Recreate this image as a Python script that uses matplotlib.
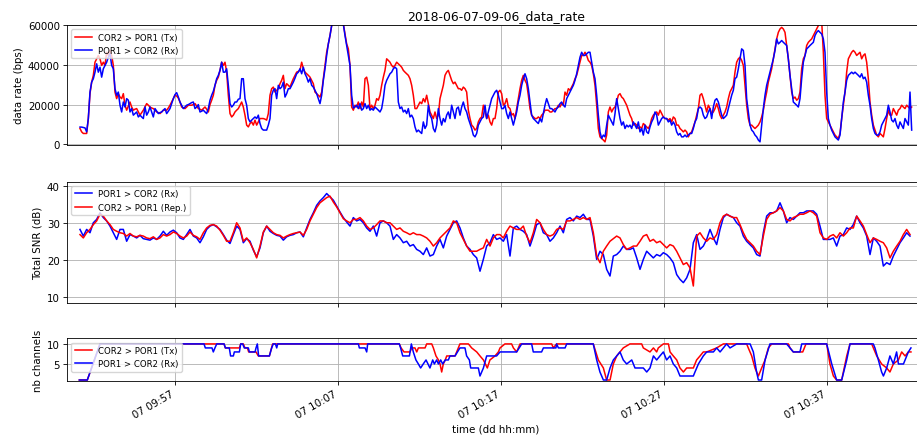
import numpy as np
import pandas as pd
import matplotlib
matplotlib.use("Agg")
import matplotlib.pyplot as plt
import matplotlib.dates as mdates

TITLE = "2018-06-07-09-06_data_rate"
BASE_TIME = "2018-06-07 09:50:00"

# ---------------- data rate panel (regular sampling) ----------------
RATE_START_MIN = 1.151          # minutes after 09:50:00
RATE_STEP_SEC = 6.135

RATE_TX_KBPS = [
    8.0, 6.3, 5.5, 5.5, 5.5, 13.0, 25.5, 31.3, 34.7, 41.3,
    43.0, 44.7, 43.0, 39.7, 41.3, 39.7, 46.3, 44.7, 47.2, 44.7,
    39.7, 26.3, 23.0, 25.5, 23.8, 23.0, 25.5, 19.7, 17.2, 19.3,
    21.3, 18.8, 17.2, 17.7, 18.0, 16.3, 14.7, 16.0, 17.2, 18.8,
    20.5, 19.7, 18.8, 18.3, 18.0, 17.2, 16.3, 16.0, 15.5, 16.3,
    17.2, 17.2, 17.2, 18.3, 19.7, 21.3, 23.0, 24.7, 24.3, 23.3,
    21.3, 18.8, 18.3, 18.0, 18.8, 19.7, 19.7, 19.7, 20.0, 20.5,
    19.3, 18.0, 17.7, 17.2, 18.0, 18.8, 17.7, 16.3, 20.0, 22.2,
    24.7, 29.7, 32.2, 33.8, 37.2, 41.3, 39.7, 41.3, 36.3, 24.7,
    15.5, 13.8, 14.7, 16.3, 17.2, 18.0, 19.7, 21.3, 18.8, 14.7,
    9.7, 8.8, 10.5, 11.3, 9.7, 12.2, 9.7, 11.3, 13.0, 13.0,
    13.0, 12.7, 12.2, 15.5, 24.7, 28.0, 28.8, 26.3, 27.2, 28.0,
    30.5, 32.2, 34.7, 28.0, 30.5, 29.7, 28.8, 31.0, 33.0, 34.7,
    36.3, 36.7, 37.2, 41.3, 38.0, 36.3, 35.5, 34.7, 33.8, 32.2,
    30.5, 26.3, 25.5, 24.7, 23.8, 26.3, 33.0, 39.7, 46.3, 50.5,
    54.7, 59.7, 62.2, 64.7, 66.3, 66.3, 64.7, 62.2, 60.5, 55.5,
    50.5, 48.0,
    39.7, 18.8, 17.2, 19.7, 18.8, 21.3, 18.0, 21.3, 18.8, 33.0,
    33.8, 29.7, 18.0, 19.7, 18.0, 19.7, 23.0, 22.2, 24.7, 29.7,
    33.8, 37.2, 43.0, 42.2, 41.3, 39.7, 38.8, 39.7, 41.3, 40.5,
    39.7, 38.8, 37.2, 36.3, 35.5, 34.7, 33.0, 29.7, 24.7, 18.0,
    18.0, 19.7, 21.3, 20.5, 23.0, 21.3, 24.7, 20.5, 16.3, 14.7,
    13.0, 16.3, 13.0, 14.7, 23.0, 26.3, 29.7, 34.7, 36.3, 37.2,
    34.7, 32.2, 30.5, 31.3, 29.7, 28.0, 28.0, 27.2, 28.8, 28.0,
    26.3, 17.2, 13.0, 9.7, 8.8, 7.2, 8.0, 11.3, 13.0, 13.8,
    19.7, 16.3, 13.0, 14.7, 11.3, 9.7, 13.0, 13.0, 18.0, 26.3,
    27.2, 25.5, 19.7, 20.5, 23.0, 18.8, 18.0, 14.7, 15.5, 13.0,
    18.0, 23.0, 28.0, 32.2, 34.7, 32.2, 30.5, 24.7, 18.0, 14.7,
    13.8, 13.0, 13.0, 13.8, 13.0, 14.7, 15.5, 17.2, 17.2, 17.2,
    16.3, 16.3, 17.2, 18.0, 18.0, 19.7, 18.8, 20.5, 19.7, 26.3,
    24.7, 28.0, 27.2, 28.8, 30.5, 33.0, 34.7, 38.0, 41.3, 44.7,
    44.7, 46.3, 44.7, 42.2, 41.3, 39.7, 35.5, 29.7, 19.7, 8.0,
    3.8, 3.0, 2.2, 1.3, 4.7, 16.3, 18.8, 16.3, 18.0, 18.8,
    21.3, 24.7, 25.5, 23.8, 23.0, 21.3, 19.7, 17.2,
    14.7, 13.0, 9.7, 10.5, 9.7, 8.0, 8.8, 8.0, 10.5, 9.7,
    8.8, 8.0, 9.7, 13.0, 14.7, 15.5, 16.3, 14.7, 17.2, 15.5,
    13.8, 13.0, 13.0, 12.2, 13.0, 11.3, 13.8, 13.0, 9.7, 9.7,
    8.0, 7.2, 6.3, 7.2, 6.3, 3.8, 5.5, 6.3, 8.8, 11.3,
    14.7, 18.0, 24.7, 25.5, 23.0, 19.7, 16.3, 19.7, 18.0, 15.5,
    16.3, 18.0, 20.5, 18.0, 14.7, 13.0, 14.7, 16.3, 18.8, 23.0,
    26.3, 28.0, 29.7, 36.3, 41.3, 43.0, 43.8, 42.2, 39.7, 29.7,
    19.7, 13.0, 9.7, 9.7, 8.8, 8.0, 8.8, 9.7, 11.3, 13.8,
    17.2, 22.2, 26.3, 31.3, 34.7, 38.0, 43.0, 48.0, 53.0, 56.3,
    58.0, 58.8, 58.0, 56.3, 49.7, 43.0, 34.7, 26.3, 23.0, 23.8,
    22.2, 23.0, 26.3, 38.0, 43.0, 44.7, 49.7, 51.3, 52.2, 53.0,
    54.7, 56.3, 58.0, 59.7, 61.0, 62.0, 46.3, 24.7, 13.0, 11.3,
    9.7, 8.0, 6.3, 4.7, 3.8, 3.0, 5.5, 13.0, 19.7, 26.3,
    36.3, 43.0, 44.7, 46.3, 47.2, 46.3, 44.7, 45.5, 46.3, 43.0,
    44.7, 45.5, 41.3, 33.0, 21.3, 14.7, 9.7, 7.2, 4.7, 3.8,
    5.5, 4.7, 3.8, 8.0, 13.0, 17.2, 14.7, 14.7, 18.0, 16.3,
    14.7, 17.2, 18.0, 19.7, 18.8, 18.0, 19.7, 18.8, 18.0, 18.8,
]

RATE_RX_KBPS = [
    8.7, 8.7, 8.5, 8.3, 6.3, 13.0, 26.3, 31.3, 33.0, 36.3,
    40.5, 36.3, 38.8, 33.8, 38.0, 39.7, 41.3, 43.8, 45.5, 39.7,
    38.0, 28.0, 24.7, 26.3, 19.7, 16.3, 21.3, 18.8, 23.0, 22.2,
    16.3, 18.0, 14.7, 15.5, 16.3, 13.8, 14.7, 13.8, 13.0, 18.8,
    14.7, 16.3, 18.8, 16.3, 13.8, 18.0, 16.7, 15.5, 16.0, 16.3,
    17.2, 18.0, 15.5, 16.7, 18.0, 20.5, 23.0, 25.0, 26.0, 23.8,
    21.3, 19.7, 18.0, 18.8, 19.7, 20.0, 20.5, 21.0, 21.3, 18.0,
    18.8, 20.0, 16.3, 16.7, 17.2, 16.3, 15.5, 18.0, 22.2, 24.7,
    26.7, 29.7, 33.0, 34.7, 37.2, 41.3, 36.3, 36.3, 38.0, 29.7,
    20.5, 18.8, 19.7, 21.3, 21.3, 22.7, 23.0, 33.0, 33.0, 23.0,
    19.7, 13.0, 11.3, 12.2, 13.0, 13.8, 13.0, 14.7, 10.5, 8.0,
    7.2, 7.2, 7.2, 9.7, 13.0, 24.7, 27.2, 28.0, 23.0, 29.7,
    28.0, 28.8, 31.3, 23.8, 25.5, 28.0, 28.0, 29.7, 31.3, 33.3,
    35.5, 36.3, 38.0, 35.5, 38.8, 35.5, 33.8, 31.3, 33.0, 29.7,
    28.8, 27.2, 25.5, 23.0, 20.5, 24.7, 32.2, 38.0, 44.7, 50.5,
    54.7, 59.7, 62.2, 64.7, 66.3, 66.3, 64.7, 62.2, 60.5, 54.7,
    49.7, 44.7,
    39.7, 24.7, 18.3, 18.8, 19.7, 18.0, 20.5, 17.2, 18.0, 20.5,
    18.0, 19.7, 17.2, 18.0, 17.2, 18.8, 18.0, 17.2, 16.3, 18.0,
    23.0, 29.7, 32.2, 33.8, 35.5, 36.3, 38.0, 38.8, 38.0, 21.3,
    18.0, 18.8, 16.3, 17.2, 15.5, 18.0, 13.8, 14.7, 13.0, 8.8,
    6.3, 7.2, 6.3, 5.5, 11.3, 8.0, 9.7, 19.7, 14.7, 13.0,
    8.0, 6.3, 9.7, 18.0, 13.0, 9.7, 13.0, 11.3, 14.7, 16.3,
    13.0, 19.7, 16.3, 13.0, 18.0, 18.8, 14.7, 18.8, 21.3, 18.0,
    16.3, 13.0, 10.5, 8.0, 4.7, 3.8, 5.5, 9.7, 11.3, 13.0,
    13.8, 19.7, 13.0, 16.3, 19.7, 23.0, 24.7, 26.3, 27.2, 24.7,
    21.3, 18.0, 18.0, 19.7, 15.5, 13.0, 16.3, 13.0, 9.7, 13.0,
    16.3, 21.3, 24.7, 29.7, 33.0, 35.5, 33.0, 28.0, 21.3, 14.7,
    13.0, 12.2, 11.3, 10.5, 13.0, 11.3, 15.5, 19.7, 23.0, 20.5,
    18.0, 18.0, 17.2, 16.3, 18.0, 18.8, 20.5, 21.3, 19.7, 18.8,
    23.0, 24.7, 26.3, 28.0, 29.7, 32.2, 35.5, 39.7, 43.8, 46.3,
    44.7, 44.7, 45.5, 46.3, 46.3, 41.3, 36.3, 33.0, 24.7, 14.7,
    6.3, 3.0, 4.7, 3.8, 9.7, 14.7, 13.0, 11.3, 9.7, 15.5,
    23.0, 18.0, 13.0, 9.7, 11.3, 8.0, 9.7, 8.8,
    9.7, 8.0, 11.3, 9.7, 8.0, 11.3, 6.3, 8.0, 4.7, 9.7,
    6.3, 5.5, 8.8, 11.3, 13.0, 16.3, 14.7, 9.7, 11.3, 13.0,
    13.8, 13.0, 13.0, 11.3, 12.2, 9.7, 11.3, 9.7, 6.3, 4.7,
    5.5, 3.8, 3.8, 4.7, 3.8, 4.7, 5.5, 5.5, 8.0, 11.3,
    13.0, 18.0, 18.8, 18.0, 14.7, 13.0, 13.8, 16.3, 18.0, 13.0,
    18.8, 22.2, 23.0, 21.3, 18.0, 14.7, 13.0, 13.8, 14.7, 18.0,
    21.3, 24.7, 27.2, 33.0, 33.8, 38.0, 43.0, 48.0, 47.2, 39.7,
    23.0, 16.3, 9.7, 7.2, 6.3, 4.7, 3.8, 2.2, 1.3, 9.7,
    18.0, 24.7, 29.7, 33.0, 36.3, 39.7, 43.0, 47.2, 53.0, 50.5,
    51.3, 52.2, 51.3, 50.5, 49.7, 43.0, 34.7, 28.0, 21.3, 20.5,
    19.7, 18.8, 23.0, 33.0, 41.3, 44.7, 48.0, 48.8, 49.7, 50.5,
    51.3, 54.7, 56.3, 57.2, 56.3, 55.5, 53.0, 46.3, 26.3, 13.0,
    9.7, 7.2, 5.5, 3.8, 3.0, 2.2, 4.7, 13.0, 21.3, 26.3,
    32.2, 34.7, 35.5, 36.3, 35.5, 36.3, 35.5, 34.7, 33.8, 35.5,
    33.0, 33.8, 31.3, 24.7, 19.7, 13.0, 8.0, 5.5, 4.7, 4.7,
    6.3, 9.7, 11.3, 13.0, 14.7, 19.7, 16.3, 12.2, 11.3, 13.0,
    9.7, 8.0, 11.3, 9.7, 8.0, 13.0, 11.3, 9.7, 26.3, 7.2,
]

# ---------------- SNR panel (regular sampling) ----------------
SNR_START_MIN = 1.151
SNR_STEP_SEC = 12.27

SNR_RX_DB = [
    28.2, 26.4, 28.2, 27.3, 30.0, 30.9, 32.7, 31.4, 30.5, 29.1,
    27.3, 25.5, 28.2, 28.2, 25.0, 26.8, 26.4, 25.9, 26.6, 25.7,
    25.5, 25.3, 25.9, 25.5, 26.4, 27.7, 26.6, 27.5, 28.0, 27.3,
    25.9, 25.5, 26.8, 28.2, 26.4, 25.9, 24.6, 26.2, 28.2, 29.1,
    29.5, 28.9, 28.2, 26.8, 25.3, 24.4, 26.8, 29.1, 28.2, 24.6,
    25.7, 25.0, 22.6, 20.8, 23.2, 27.3, 29.1, 27.7, 27.1, 26.6,
    26.4, 25.3, 26.2, 26.6, 26.8, 27.3, 27.5, 26.2, 28.6, 30.9,
    32.7, 34.7, 35.9, 36.8, 37.9, 37.0, 36.1, 34.5, 32.9, 31.4,
    30.2,
    29.1, 31.4, 30.5, 30.9, 30.0, 28.6, 27.7, 29.1, 26.4, 30.0,
    30.5, 30.0, 29.1, 25.5, 26.8, 25.9, 24.6, 25.0, 23.7, 24.1,
    22.8, 22.3, 21.4, 23.2, 21.0, 21.4, 23.7, 25.5, 23.2, 26.4,
    28.2, 30.0, 30.5, 28.6, 25.9, 23.7, 22.8, 21.4, 20.5, 16.9,
    20.1, 23.7, 24.6, 26.8, 25.5, 25.9, 25.0, 26.8, 21.0, 28.6,
    29.1, 28.2, 27.7, 26.8, 23.7, 26.4, 29.5, 30.0, 27.3, 26.8,
    25.0, 25.9, 27.3, 29.1, 27.3, 30.9, 31.4, 30.5, 31.8, 31.4,
    32.3, 30.9, 30.9, 26.4, 20.1, 22.3, 21.4, 17.4, 15.6, 21.0,
    21.4, 22.3, 23.7, 22.8,
    22.8, 23.2, 20.5, 17.4, 20.1, 22.3, 21.4, 20.5, 21.4, 21.0,
    21.9, 21.4, 20.5, 19.2, 16.0, 14.7, 13.8, 15.1, 17.4, 24.6,
    26.8, 22.8, 23.7, 25.5, 28.2, 25.9, 24.1, 28.2, 31.4, 32.3,
    31.8, 31.4, 30.0, 29.1, 26.4, 25.0, 24.1, 23.2, 21.4, 21.0,
    27.3, 31.8, 32.7, 32.7, 33.2, 35.4, 33.2, 30.0, 31.4, 30.9,
    31.8, 32.7, 32.7, 33.2, 33.2, 33.2, 32.3, 29.1, 25.5, 25.5,
    25.5, 25.9, 23.7, 26.4, 26.8, 28.6, 28.2, 29.5, 31.8, 30.0,
    28.6, 26.4, 21.4, 25.9, 25.0, 23.7, 18.3, 19.2, 18.7, 21.0,
    22.8, 24.6, 25.9, 27.3, 26.4,
]

SNR_REP_DB = [
    26.8, 25.9, 27.3, 28.2, 29.5, 30.5, 32.3, 31.8, 30.5, 29.5,
    28.2, 27.7, 27.3, 27.1, 26.4, 27.1, 26.4, 26.2, 26.6, 26.4,
    25.9, 25.7, 26.2, 25.5, 25.9, 26.8, 26.4, 26.8, 27.5, 27.1,
    26.4, 25.9, 26.4, 27.5, 26.6, 26.2, 25.5, 27.3, 28.6, 29.3,
    29.5, 29.1, 28.0, 26.6, 25.0, 25.0, 27.3, 30.0, 28.6, 25.0,
    25.9, 24.6, 22.8, 20.5, 23.7, 27.5, 29.1, 28.2, 27.3, 26.8,
    26.6, 25.9, 26.4, 26.8, 27.1, 27.3, 27.5, 26.6, 28.2, 30.5,
    32.3, 34.1, 35.4, 36.1, 36.8, 37.2, 35.6, 34.3, 32.7, 31.1,
    30.5,
    30.0, 30.9, 30.9, 31.4, 30.5, 29.1, 28.2, 28.6, 29.5, 30.5,
    30.5, 30.0, 30.0, 29.1, 28.2, 28.6, 27.7, 27.3, 26.8, 27.3,
    26.8, 26.8, 26.4, 25.9, 25.0, 23.7, 24.6, 25.9, 26.8, 27.7,
    28.6, 30.5, 30.0, 27.3, 25.5, 23.7, 22.3, 22.3, 22.3, 22.8,
    23.2, 25.5, 23.7, 25.9, 26.8, 26.8, 25.9, 27.7, 29.1, 28.6,
    28.2, 28.2, 29.1, 26.4, 24.6, 27.3, 30.9, 30.0, 28.2, 26.8,
    26.4, 26.8, 28.2, 28.6, 28.2, 30.5, 30.5, 30.9, 31.4, 30.9,
    31.4, 30.9, 31.4, 27.3, 21.0, 19.2, 22.3, 23.7, 25.0, 25.7,
    26.4, 25.9, 24.1, 22.8,
    23.2, 23.7, 23.7, 25.0, 26.4, 26.8, 25.0, 25.5, 24.6, 25.0,
    24.1, 23.2, 24.1, 23.7, 22.3, 20.5, 18.7, 19.2, 17.8, 12.9,
    26.4, 27.3, 25.9, 25.0, 25.9, 25.5, 26.8, 30.0, 31.8, 32.3,
    31.8, 31.4, 31.4, 29.5, 27.3, 25.5, 24.6, 23.7, 22.3, 21.4,
    26.4, 30.9, 32.3, 32.7, 33.2, 34.1, 33.2, 30.9, 30.5, 31.4,
    31.8, 32.3, 32.3, 32.7, 33.2, 32.7, 31.8, 27.3, 25.9, 25.5,
    26.4, 26.8, 25.9, 27.3, 26.4, 27.3, 28.6, 28.6, 31.8, 30.5,
    29.1, 26.8, 24.6, 25.9, 25.5, 25.0, 24.6, 23.2, 20.5, 22.3,
    23.7, 25.0, 26.8, 28.2, 26.8,
]

# ---------------- channel panel (change points) ----------------
CH_TX_MIN = [
    1.11, 1.60, 2.38, 9.99, 10.07, 10.93, 11.01, 11.17, 11.27, 11.42,
    11.50, 11.95, 12.09, 12.77, 12.97, 20.74, 20.85, 21.03, 21.40, 21.50,
    21.70, 21.81, 21.91, 22.32, 22.42, 22.73, 22.83, 22.99, 23.14, 23.24,
    23.34, 23.44, 23.56, 23.65, 24.16,
    24.26, 24.36, 24.46, 24.98, 25.18, 25.49, 25.69, 25.90, 26.14, 26.30,
    26.61, 26.82, 26.92, 27.22, 27.63, 27.74, 27.94, 28.15, 30.09, 30.19,
    30.39, 32.64, 32.95, 33.26, 33.46, 33.67, 33.87, 34.08, 34.28, 34.48,
    34.89, 35.61, 35.71, 36.12, 36.33, 36.53, 36.63, 36.94, 37.25, 37.35,
    37.55, 37.76, 37.96, 38.17, 38.37, 38.57, 38.78, 38.98, 39.19, 39.39,
    39.60, 40.21, 40.62, 42.05, 42.15, 42.36, 42.56, 42.77, 42.97, 43.18,
    43.38, 43.59, 44.61, 44.71, 44.91, 45.49, 45.59, 45.69, 46.96, 47.16,
    47.37, 47.57, 47.88, 48.19, 48.39, 49.72, 50.03, 50.33, 50.64, 50.84,
    51.05, 51.36, 51.56, 51.77, 51.97, 52.13,
]
CH_TX = [
    1, 1, 10, 10, 9, 9, 10, 10, 9, 9,
    8, 8, 7, 7, 10, 10, 9, 8, 8, 9,
    9, 8, 9, 9, 10, 10, 9, 7, 6, 5,
    3, 5, 6, 7, 7,
    8, 9, 10, 10, 9, 8, 7, 6, 4, 6,
    7, 8, 9, 10, 10, 9, 8, 10, 10, 9,
    10, 10, 6, 4, 1, 1, 5, 7, 8, 9,
    10, 10, 9, 8, 9, 8, 9, 10, 10, 8,
    7, 6, 4, 3, 4, 4, 4, 6, 7, 8,
    8, 9, 10, 10, 9, 7, 4, 2, 4, 6,
    9, 10, 10, 9, 8, 8, 9, 10, 10, 5,
    2, 1, 1, 7, 10, 10, 7, 5, 4, 3,
    5, 6, 8, 7, 8, 8,
]

CH_RX_MIN = [
    1.11, 1.60, 2.38, 8.76, 8.84, 9.25, 9.33, 9.43, 9.54, 9.99,
    10.07, 10.31, 10.39, 10.56, 10.62, 10.93, 11.01, 11.13, 11.23, 11.48,
    11.54, 11.89, 11.95, 12.03, 12.11, 12.77, 12.91, 13.01, 13.14, 13.22,
    13.28, 18.23, 18.29, 18.64, 18.74, 18.80, 20.74, 20.82, 20.95, 21.36,
    21.48, 21.60, 21.76, 21.91, 22.05, 22.21, 22.38, 22.50, 22.62, 22.79,
    22.89, 23.03, 23.14, 23.28, 23.40, 23.56, 23.75,
    23.85, 24.16, 24.46, 24.77, 24.87, 25.04, 25.12, 25.59, 25.69, 25.90,
    26.10, 26.71, 26.92, 27.33, 27.94, 28.25, 28.86, 28.96, 29.47, 29.58,
    30.35, 30.39, 30.50, 30.91, 31.01, 32.64, 32.85, 33.05, 33.26, 33.46,
    33.67, 33.87, 34.08, 34.28, 34.48, 34.69, 35.00, 35.20, 35.71, 35.92,
    36.12, 36.33, 36.53, 36.73, 36.94, 37.14, 37.35, 37.55, 37.76, 37.96,
    38.78, 38.88, 39.09, 39.39, 39.60, 40.01, 40.21, 40.42, 40.62, 40.82,
    41.03, 41.44, 42.26, 42.46, 42.66, 42.77, 42.97, 43.18, 43.48, 44.50,
    44.71, 44.91, 45.32, 45.43, 46.96, 47.27, 47.57, 47.88, 48.19, 48.39,
    49.82, 49.92, 50.13, 50.33, 50.44, 50.64, 50.84, 51.05, 51.25, 51.36,
    51.67, 51.97, 52.13,
]
CH_RX = [
    1, 1, 10, 10, 9, 9, 8, 9, 10, 10,
    9, 9, 7, 7, 8, 8, 10, 10, 9, 9,
    8, 8, 9, 10, 7, 7, 9, 10, 10, 9,
    10, 10, 9, 9, 8, 10, 10, 9, 7, 7,
    10, 8, 6, 5, 4, 5, 6, 5, 4, 6,
    5, 6, 5, 6, 5, 6, 6,
    7, 7, 9, 9, 7, 6, 4, 4, 2, 4,
    7, 7, 8, 8, 8, 10, 10, 8, 8, 9,
    9, 10, 9, 9, 10, 10, 6, 3, 1, 1,
    4, 6, 7, 8, 6, 5, 6, 4, 4, 3,
    4, 7, 6, 7, 8, 6, 7, 5, 4, 2,
    2, 3, 5, 7, 8, 8, 9, 8, 9, 10,
    9, 10, 10, 8, 3, 1, 1, 6, 10, 10,
    9, 8, 8, 10, 10, 5, 1, 1, 6, 10,
    10, 9, 6, 3, 2, 4, 7, 5, 8, 5,
    5, 8, 9,
]

TICK_MIN = [7, 17, 27, 37, 47]          # 09:57 ... 10:37
XLIM_MIN = [0.356, 52.99]

# ---------------- plotting ----------------
plt.rcParams.update({
    "font.family": ["DejaVu Sans"],
    "font.size": 7.4,
    "axes.titlesize": 8.9,
    "legend.fontsize": 6.1,
    "lines.linewidth": 1.1,
    "axes.linewidth": 0.6,
    "grid.linewidth": 0.6,
    "grid.color": "#b0b0b0",
    "xtick.major.size": 2.6,
    "ytick.major.size": 2.6,
    "xtick.major.width": 0.6,
    "ytick.major.width": 0.6,
    "xtick.major.pad": 2.6,
    "ytick.major.pad": 2.6,
    "axes.labelpad": 3.0,
    "axes.titlepad": 4.5,
})

base = pd.Timestamp(BASE_TIME)


def at_minutes(m):
    return (base + pd.to_timedelta(np.asarray(m, dtype=float), unit="min")).to_numpy()


def regular_times(start_min, step_sec, n):
    return (base + pd.to_timedelta(start_min, unit="min")
            + pd.to_timedelta(np.arange(n) * step_sec, unit="s")).to_numpy()


t_rate = regular_times(RATE_START_MIN, RATE_STEP_SEC, len(RATE_TX_KBPS))
t_snr = regular_times(SNR_START_MIN, SNR_STEP_SEC, len(SNR_RX_DB))

fig = plt.figure(figsize=(9.17, 4.39), dpi=100)
left, width = 0.0731, 0.9356
ax1 = fig.add_axes([left, 0.6674, width, 0.2734])
ax2 = fig.add_axes([left, 0.3075, width, 0.2763], sharex=ax1)
ax3 = fig.add_axes([left, 0.1298, width, 0.0973], sharex=ax1)

# data rate
ax1.plot(t_rate, np.array(RATE_TX_KBPS) * 1000, color="red", label="COR2 > POR1 (Tx)")
ax1.plot(t_rate, np.array(RATE_RX_KBPS) * 1000, color="blue", label="POR1 > COR2 (Rx)")
ax1.set_ylim(-300, 60000)
ax1.set_yticks([0, 20000, 40000, 60000])
ax1.set_ylabel("data rate (bps)")
ax1.set_title(TITLE)
ax1.legend(loc="upper left")

# SNR
ax2.plot(t_snr, SNR_RX_DB, color="blue", label="POR1 > COR2 (Rx)")
ax2.plot(t_snr, SNR_REP_DB, color="red", label="COR2 > POR1 (Rep.)")
ax2.set_ylim(8.3, 41.1)
ax2.set_yticks([10, 20, 30, 40])
ax2.set_ylabel("Total SNR (dB)")
ax2.legend(loc="upper left")

# channels
ax3.plot(at_minutes(CH_TX_MIN), CH_TX, color="red", label="COR2 > POR1 (Tx)")
ax3.plot(at_minutes(CH_RX_MIN), CH_RX, color="blue", label="POR1 > COR2 (Rx)")
ax3.set_ylim(0.75, 11.4)
ax3.set_yticks([5, 10])
ax3.set_ylabel("nb channels")
ax3.set_xlabel("time (dd hh:mm)")
ax3.legend(loc="upper left")

for ax in (ax1, ax2, ax3):
    ax.grid(True)
    ax.xaxis.set_major_locator(mdates.ticker.FixedLocator(mdates.date2num(at_minutes(TICK_MIN))))
    ax.xaxis.set_major_formatter(mdates.DateFormatter("%d %H:%M"))
ax1.set_xlim(at_minutes(XLIM_MIN))
ax1.tick_params(labelbottom=False)
ax2.tick_params(labelbottom=False)
for lbl in ax3.get_xticklabels():
    lbl.set_rotation(30)
    lbl.set_ha("right")

fig.savefig("out.png", dpi=100)
